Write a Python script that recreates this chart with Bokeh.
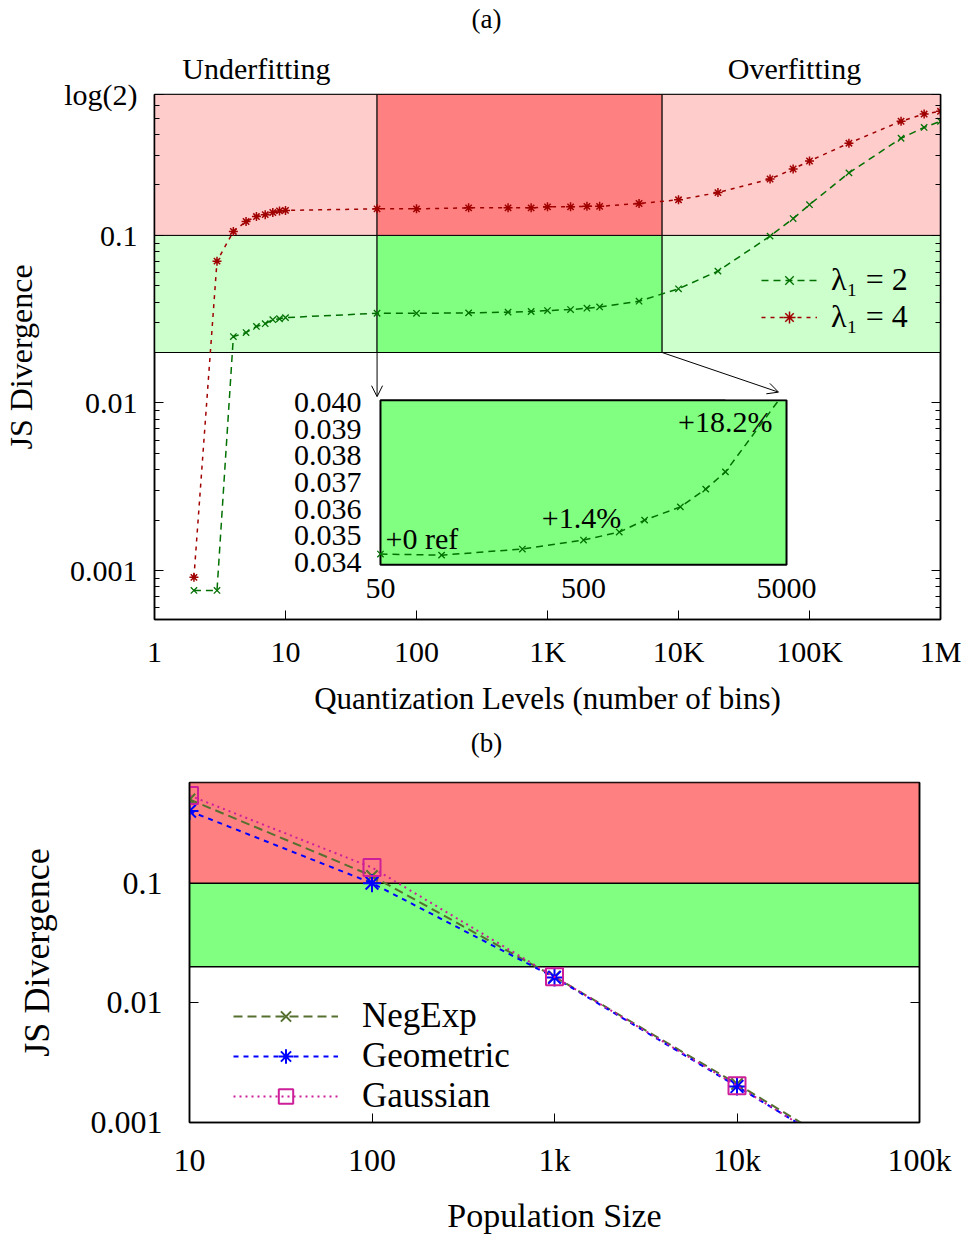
import math
from bokeh.plotting import figure
from bokeh.models import (Range1d, LogScale, LogAxis, FixedTicker,
                          Legend, LegendItem, Arrow, OpenHead)
from bokeh.layouts import column
from bokeh.embed import file_html
from bokeh.resources import INLINE
from bokeh.core.properties import value

FONT = "Liberation Serif"
LOG2 = math.log(2)

# ---------------- panel (a) data ----------------
bins = [2, 3, 4, 5, 6, 7, 8, 9, 10, 50, 100, 250, 500, 750, 1000, 1500, 2000, 2500,
        5000, 10000, 20000, 50000, 75000, 100000, 200000, 500000, 750000, 1000000]
js_lambda2 = [0.00076, 0.00076, 0.0249, 0.0263, 0.0286, 0.0297, 0.0314, 0.0318, 0.0323,
              0.0343, 0.03426, 0.03449, 0.03483, 0.03513, 0.03558, 0.03608, 0.03675, 0.0374,
              0.0405, 0.048, 0.0612, 0.099, 0.126, 0.1525, 0.236, 0.38, 0.441, 0.48]
js_lambda4 = [0.00091, 0.0702, 0.1056, 0.121, 0.1295, 0.133, 0.137, 0.14, 0.141,
              0.144, 0.144, 0.146, 0.146, 0.146, 0.148, 0.148, 0.149, 0.149,
              0.155, 0.163, 0.18, 0.217, 0.249, 0.278, 0.355, 0.48, 0.53, 0.55]
a_xticks = [1, 10, 100, 1000, 10000, 100000, 1000000]
a_xlabels = ["1", "10", "100", "1K", "10K", "100K", "1M"]
a_yticks = [0.001, 0.01, 0.1, LOG2]
a_ylabels = ["0.001", "0.01", "0.1", "log(2)"]
a_yminor = [k * 10.0 ** e for e in range(-4, 0) for k in range(2, 10)]
region_x = [1, 50, 7500, 1000000]
region_y = [0.02, 0.1, LOG2]
region_colors_low = ["#ccffcc", "#80ff80", "#ccffcc"]
region_colors_high = ["#ffcccc", "#ff8080", "#ffcccc"]
phase_names = ["Underfitting", "Overfitting"]
phase_name_x = [6.0, 76800]
panel_a_name, panel_a_x = "(a)", 342
panel_b_name, panel_b_x = "(b)", 424

inset_xlim = (50, 5000)
inset_ylim = (0.0339, 0.0401)
inset_xticks = [50, 500, 5000]
inset_xlabels = ["50", "500", "5000"]
inset_yticks = [0.034, 0.035, 0.036, 0.037, 0.038, 0.039, 0.040]
inset_ylabels = ["0.034", "0.035", "0.036", "0.037", "0.038", "0.039", "0.040"]
inset_notes = ["+0 ref", "+1.4%", "+18.2%"]
inset_note_bins = [50, 750, 5000]

# ---------------- panel (b) data ----------------
pop = [10, 100, 1000, 10000, 100000]
negexp = [0.50, 0.115, 0.0165, 0.0021, 0.00025]
geometric = [0.40, 0.100, 0.0163, 0.0020, 0.00024]
gaussian = [0.54, 0.135, 0.0165, 0.00203, 0.00023]
b_xticks = [10, 100, 1000, 10000, 100000]
b_xlabels = ["10", "100", "1k", "10k", "100k"]
b_yticks = [0.001, 0.01, 0.1]
b_ylabels = ["0.001", "0.01", "0.1"]

GREEN = "#007000"
RED = "#a00000"
OLIVE = "#55702f"
BLUE = "#0000ff"
MAGENTA = "#cc1f99"

# inset placement inside the frame of (a), as fractions of the frame
INSET_FX = (0.2875, 0.8041)
INSET_FY = (0.1044, 0.4175)
_dec = (math.log10(inset_xlim[1]) - math.log10(inset_xlim[0])) / (INSET_FX[1] - INSET_FX[0])
ix0 = 10 ** (math.log10(inset_xlim[0]) - INSET_FX[0] * _dec)
ix1 = 10 ** (math.log10(inset_xlim[0]) + (1 - INSET_FX[0]) * _dec)
_per = (inset_ylim[1] - inset_ylim[0]) / (INSET_FY[1] - INSET_FY[0])
iy0 = inset_ylim[0] - INSET_FY[0] * _per
iy1 = iy0 + _per


def style_axis(ax, size):
    ax.major_label_text_font = FONT
    ax.major_label_text_font_size = size
    ax.major_label_text_color = "black"
    ax.axis_label_text_font = FONT
    ax.axis_label_text_font_style = "normal"
    ax.axis_label_text_color = "black"
    ax.axis_line_color = "black"
    ax.axis_line_width = 1.5
    ax.major_tick_in = 9
    ax.major_tick_out = 0
    ax.minor_tick_in = 5
    ax.minor_tick_out = 0
    ax.major_tick_line_color = "black"
    ax.minor_tick_line_color = "black"


def text_axis(range_name, ticks, labels, size, standoff):
    kw = {"x_range_name": range_name} if range_name else {}
    ax = LogAxis(ticker=FixedTicker(ticks=ticks, minor_ticks=[]),
                 major_label_overrides=dict(zip(ticks, labels)), **kw)
    style_axis(ax, size)
    ax.axis_line_color = None
    ax.major_tick_line_color = None
    ax.major_tick_in = 0
    ax.major_label_standoff = standoff
    return ax


def no_align(p):
    if "frame_align" in p.properties():
        p.frame_align = False


# ================= figure (a) =================
# default ranges = coordinate system of the inset; main data uses extra log ranges
p1 = figure(width=962, height=720, x_axis_type="log",
            x_range=Range1d(ix0, ix1), y_range=Range1d(iy0, iy1),
            x_axis_location=None, y_axis_location=None,
            output_backend="svg", toolbar_location=None,
            min_border_left=154, min_border_right=22, min_border_top=92, min_border_bottom=101)
no_align(p1)
p1.extra_x_ranges = {"lx": Range1d(1, 1000000)}
p1.extra_y_ranges = {"ly": Range1d(5.1e-4, LOG2)}
p1.extra_x_scales = {"lx": LogScale()}
p1.extra_y_scales = {"ly": LogScale()}
p1.grid.grid_line_color = None
p1.outline_line_color = "black"
p1.outline_line_width = 1.5

xax = LogAxis(x_range_name="lx", ticker=FixedTicker(ticks=a_xticks, minor_ticks=[]),
              major_label_overrides=dict(zip(a_xticks, a_xlabels)),
              axis_label="Quantization Levels (number of bins)")
style_axis(xax, "30px")
xax.axis_label_text_font_size = "31px"
xax.major_label_standoff = 15
xax.axis_label_standoff = 10
p1.add_layout(xax, "below")

p1.add_layout(text_axis("lx", phase_name_x, phase_names, "30px", 10), "above")
p1.add_layout(text_axis("lx", [panel_a_x], [panel_a_name], "27px", 15), "above")

yax = LogAxis(y_range_name="ly", ticker=FixedTicker(ticks=a_yticks, minor_ticks=a_yminor),
              major_label_overrides=dict(zip(a_yticks, a_ylabels)),
              axis_label="JS Divergence")
style_axis(yax, "30px")
yax.axis_label_text_font_size = "32px"
yax.major_label_standoff = 17
yax.axis_label_standoff = 22
p1.add_layout(yax, "left")

yax_r = LogAxis(y_range_name="ly", ticker=FixedTicker(ticks=a_yticks, minor_ticks=a_yminor),
                major_label_overrides={t: "" for t in a_yticks})
style_axis(yax_r, "10px")
yax_r.major_label_standoff = 0
p1.add_layout(yax_r, "right")

# background regions
n = len(region_x) - 1
p1.quad(left=region_x[:-1] * 2, right=region_x[1:] * 2,
        bottom=[region_y[0]] * n + [region_y[1]] * n,
        top=[region_y[1]] * n + [region_y[2]] * n,
        fill_color=region_colors_low + region_colors_high,
        line_color="black", line_width=1,
        x_range_name="lx", y_range_name="ly")

l2_line = p1.line(bins, js_lambda2, line_color=GREEN, line_width=1.5, line_dash="7 5",
                  x_range_name="lx", y_range_name="ly")
l2_pts = p1.scatter(bins, js_lambda2, marker="x", size=9, line_color=GREEN, line_width=1.3,
                    x_range_name="lx", y_range_name="ly")
l4_line = p1.line(bins, js_lambda4, line_color=RED, line_width=1.5, line_dash="4 5",
                  x_range_name="lx", y_range_name="ly")
l4_pts = p1.scatter(bins, js_lambda4, marker="asterisk", size=9, line_color=RED, line_width=1.5,
                    x_range_name="lx", y_range_name="ly")

# inset (zoom of lambda=2 between 50 and 5000 bins), drawn on the default ranges
p1.quad(left=[inset_xlim[0]], right=[inset_xlim[1]], bottom=[inset_ylim[0]], top=[inset_ylim[1]],
        fill_color="#80ff80", line_color="black", line_width=2)
ins_x = [b for b in bins if inset_xlim[0] <= b <= inset_xlim[1]]
ins_y = [v for b, v in zip(bins, js_lambda2) if inset_xlim[0] <= b <= inset_xlim[1]]
p1.line(ins_x, ins_y, line_color=GREEN, line_width=1.5, line_dash="7 5")
p1.scatter(ins_x, ins_y, marker="x", size=9, line_color=GREEN, line_width=1.3)
# keep the zoomed curve inside the inset box
p1.quad(left=[2500], right=[5400], bottom=[inset_ylim[1] + 0.00004], top=[inset_ylim[1] + 0.0008],
        fill_color="white", line_color=None)
p1.text(x=[inset_xlim[0]] * len(inset_yticks), y=inset_yticks, text=inset_ylabels,
        x_offset=-19, text_align="right", text_baseline="middle",
        text_font=value(FONT), text_font_size="30px", text_color="black")
p1.text(x=inset_xticks, y=[inset_ylim[0]] * len(inset_xticks), text=inset_xlabels,
        y_offset=24, text_align="center", text_baseline="middle",
        text_font=value(FONT), text_font_size="30px", text_color="black")
note_y = [js_lambda2[bins.index(b)] for b in inset_note_bins]
note_style = [("left", 5, -16), ("right", 2, -15), ("right", -14, 32)]
for t, bx, by, (al, xo, yo) in zip(inset_notes, inset_note_bins, note_y, note_style):
    p1.text(x=[bx], y=[by], text=[t], x_offset=xo, y_offset=yo,
            text_align=al, text_baseline="middle",
            text_font=value(FONT), text_font_size="30px", text_color="black")

# arrows from the zoomed band to the inset
p1.add_layout(Arrow(x_start=50, y_start=0.02, x_end=50, y_end=0.0109,
                    x_range_name="lx", y_range_name="ly", line_width=1,
                    end=OpenHead(size=11, line_width=1)))
p1.add_layout(Arrow(x_start=7500, y_start=0.02, x_end=58000, y_end=0.0116,
                    x_range_name="lx", y_range_name="ly", line_width=1,
                    end=OpenHead(size=11, line_width=1)))

leg_a = Legend(items=[LegendItem(label="λ₁ = 2", renderers=[l2_line, l2_pts]),
                      LegendItem(label="λ₁ = 4", renderers=[l4_line, l4_pts])],
               location=(607, 284), background_fill_alpha=0, border_line_color=None,
               label_text_font=FONT, label_text_font_size="32px", label_text_color="black",
               glyph_width=56, glyph_height=30, label_height=30, spacing=-6,
               padding=4, label_standoff=14)
p1.add_layout(leg_a)

# ================= figure (b) =================
p2 = figure(width=962, height=516, x_axis_type="log", y_axis_type="log",
            x_range=Range1d(10, 100000), y_range=Range1d(0.001, LOG2),
            output_backend="svg", toolbar_location=None,
            min_border_left=189, min_border_right=43, min_border_top=62, min_border_bottom=113)
no_align(p2)
p2.grid.grid_line_color = None
p2.outline_line_color = "black"
p2.outline_line_width = 1.5
p2.xaxis.ticker = FixedTicker(ticks=b_xticks, minor_ticks=[])
p2.yaxis.ticker = FixedTicker(ticks=b_yticks, minor_ticks=[])
p2.xaxis.major_label_overrides = dict(zip(b_xticks, b_xlabels))
p2.yaxis.major_label_overrides = dict(zip(b_yticks, b_ylabels))
p2.xaxis.axis_label = "Population Size"
p2.yaxis.axis_label = "JS Divergence"
for ax in p2.xaxis + p2.yaxis:
    style_axis(ax, "32px")
    ax.axis_label_text_font_size = "34px"
p2.yaxis.axis_label_text_font_size = "36px"
p2.xaxis.major_label_standoff = 19
p2.xaxis.axis_label_standoff = 16
p2.yaxis.major_label_standoff = 27
p2.yaxis.axis_label_standoff = 31
yb_r = LogAxis(ticker=FixedTicker(ticks=b_yticks, minor_ticks=[]),
               major_label_overrides={t: "" for t in b_yticks})
style_axis(yb_r, "10px")
yb_r.major_label_standoff = 0
p2.add_layout(yb_r, "right")
p2.add_layout(text_axis(None, [panel_b_x], [panel_b_name], "27px", 25), "above")

p2.quad(left=[10, 10], right=[100000, 100000], bottom=[0.02, 0.1], top=[0.1, LOG2],
        fill_color=["#80ff80", "#ff8080"], line_color="black", line_width=1.5)

r_ne_l = p2.line(pop, negexp, line_color=OLIVE, line_width=2, line_dash="9 5")
r_ne_p = p2.scatter(pop, negexp, marker="x", size=16, line_color=OLIVE, line_width=2)
r_ge_l = p2.line(pop, geometric, line_color=BLUE, line_width=2, line_dash="5 5")
r_ge_p = p2.scatter(pop, geometric, marker="asterisk", size=18, line_color=BLUE, line_width=2)
r_ga_l = p2.line(pop, gaussian, line_color=MAGENTA, line_width=2, line_dash="2 4")
r_ga_p = p2.scatter(pop, gaussian, marker="square", size=17, line_color=MAGENTA,
                    fill_color=None, line_width=2)

leg_b = Legend(items=[LegendItem(label="NegExp", renderers=[r_ne_l, r_ne_p]),
                      LegendItem(label="Geometric", renderers=[r_ge_l, r_ge_p]),
                      LegendItem(label="Gaussian", renderers=[r_ga_l, r_ga_p])],
               location=(44, 6), background_fill_alpha=0, border_line_color=None,
               label_text_font=FONT, label_text_font_size="35px", label_text_color="black",
               glyph_width=105, glyph_height=36, label_height=36, spacing=-4,
               padding=6, label_standoff=24)
p2.add_layout(leg_b)

layout = column(p1, p2, spacing=0)
open("out.html", "w").write(file_html(layout, INLINE))
